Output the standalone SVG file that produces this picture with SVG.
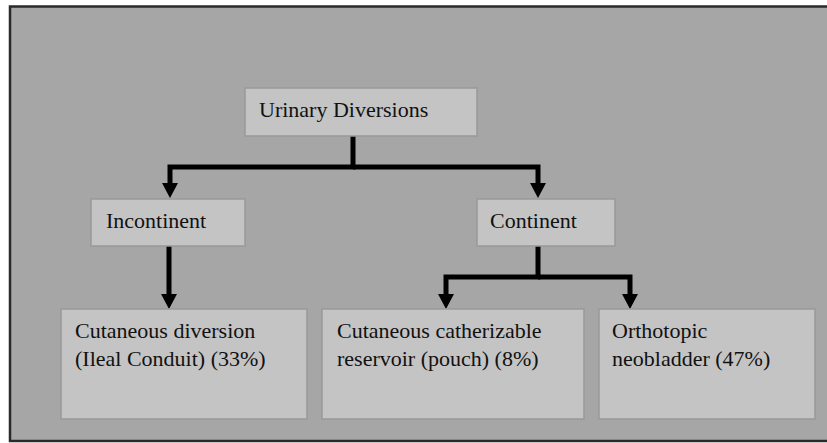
<svg xmlns="http://www.w3.org/2000/svg" width="827" height="443" viewBox="0 0 827 443">
<style>
.box{fill:#c4c4c4;stroke:#999999;stroke-width:1.5}
.lbl{font-family:"Liberation Serif","Times New Roman",serif;font-size:22px;fill:#111111}
.conn{fill:none;stroke:#000000;stroke-width:5;stroke-linejoin:miter;marker-end:url(#ah)}
</style>
<defs>
<marker id="ah" viewBox="0 0 15 16" markerWidth="15" markerHeight="16" refX="6" refY="8" orient="auto" markerUnits="userSpaceOnUse">
<path d="M0,0 L15,8 L0,16 z" fill="#000000"/>
</marker>
</defs>
<rect x="0" y="0" width="827" height="443" fill="#ffffff"/>
<rect x="10" y="6.5" width="830" height="434.5" fill="#a6a6a6" stroke="#2a2a2a" stroke-width="2.5"/>
<g id="connectors">
<path class="conn" d="M353 136 V167 H170 V189"/>
<path class="conn" d="M353 167 H538 V189"/>
<path class="conn" d="M169 246 V300"/>
<path class="conn" d="M538 246 V277 H446 V300"/>
<path class="conn" d="M538 277 H630 V300"/>
</g>
<g id="urinary-diversions">
<rect class="box" x="245" y="88" width="232" height="48"/>
<text class="lbl" x="259" y="117">Urinary Diversions</text>
</g>
<g id="incontinent">
<rect class="box" x="91" y="199" width="154" height="47"/>
<text class="lbl" x="106" y="228">Incontinent</text>
</g>
<g id="continent">
<rect class="box" x="477" y="199" width="138" height="47"/>
<text class="lbl" x="490" y="228">Continent</text>
</g>
<g id="cutaneous-diversion">
<rect class="box" x="61" y="309" width="246" height="110"/>
<text class="lbl" x="75" y="338">Cutaneous diversion</text>
<text class="lbl" x="75" y="366">(Ileal Conduit) (33%)</text>
</g>
<g id="cutaneous-reservoir">
<rect class="box" x="322" y="309" width="262" height="110"/>
<text class="lbl" x="337" y="338">Cutaneous catherizable</text>
<text class="lbl" x="337" y="366">reservoir (pouch) (8%)</text>
</g>
<g id="orthotopic-neobladder">
<rect class="box" x="599" y="309" width="216" height="110"/>
<text class="lbl" x="612" y="338">Orthotopic</text>
<text class="lbl" x="612" y="366">neobladder (47%)</text>
</g>
</svg>
